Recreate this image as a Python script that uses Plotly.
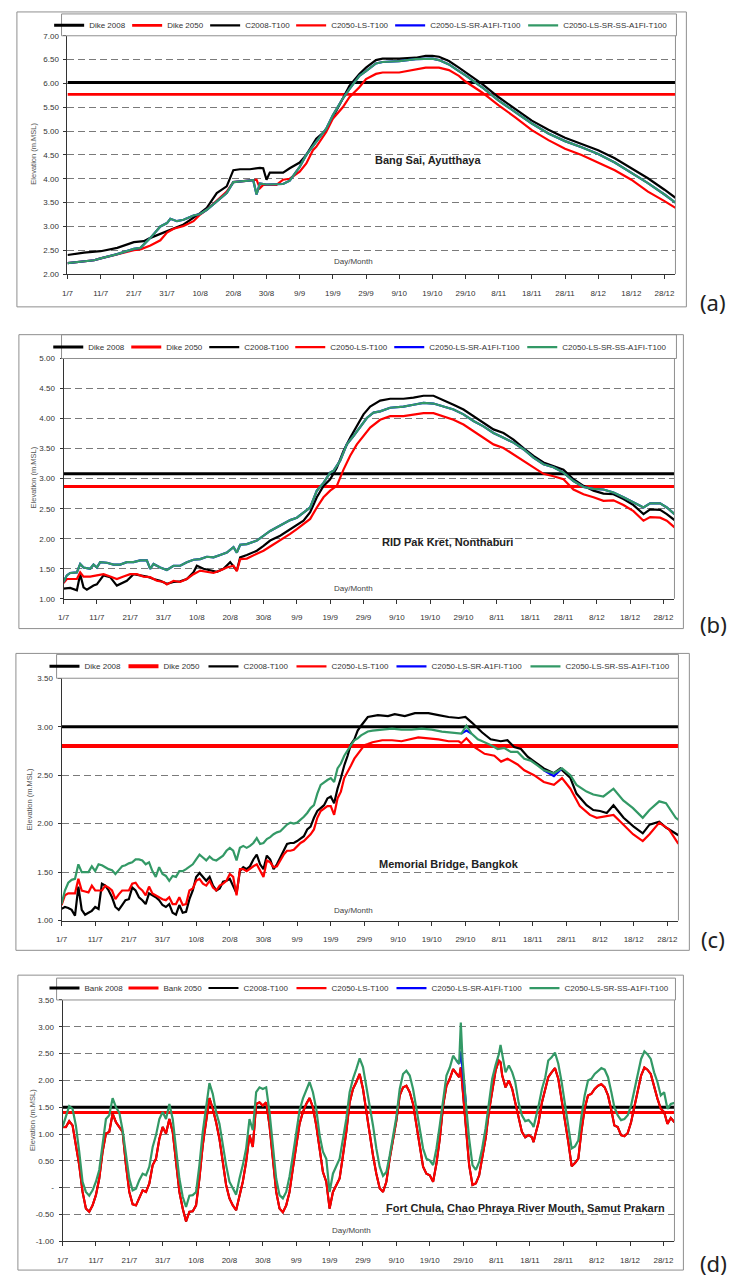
import plotly.graph_objects as go

W, H = 731, 1284
FONT = "Liberation Sans"

# ---------------- shared axis data ----------------
DAY_TICKS = [0, 10, 20, 30, 40, 50, 60, 70, 80, 90, 100, 110, 120, 130, 140, 150, 160, 170, 180]
DAY_LABELS = ["1/7", "11/7", "21/7", "31/7", "10/8", "20/8", "30/8", "9/9", "19/9", "29/9",
              "9/10", "19/10", "29/10", "8/11", "18/11", "28/11", "8/12", "18/12", "28/12"]
DAY_END = 183.3

NAMES_DIKE = ["Dike 2008", "Dike 2050"]
NAMES_BANK = ["Bank 2008", "Bank 2050"]
NAMES_RUNS = ["C2008-T100", "C2050-LS-T100", "C2050-LS-SR-A1FI-T100", "C2050-LS-SR-SS-A1FI-T100"]
STATIONS = ["Bang Sai, Ayutthaya", "RID Pak Kret, Nonthaburi", "Memorial Bridge, Bangkok",
            "Fort Chula, Chao Phraya River Mouth, Samut Prakarn"]
PANEL_TAGS = ["(a)", "(b)", "(c)", "(d)"]

# ---------------- panel (a) Bang Sai ----------------
A_LEVELS = [6.02, 5.77]
A_YTICKS = [2.0, 2.5, 3.0, 3.5, 4.0, 4.5, 5.0, 5.5, 6.0, 6.5, 7.0]
A_YTEXT = ["2.00", "2.50", "3.00", "3.50", "4.00", "4.50", "5.00", "5.50", "6.00", "6.50", "7.00"]
A_BLACK_DAY = [0, 5, 10, 15, 20, 23, 25, 30, 35, 40, 42, 45, 48, 50, 52, 55, 58, 59, 60, 61, 65, 67, 70, 72, 75,
               78, 80, 83, 85, 88, 90, 93, 95, 100, 105, 108, 110, 112, 115, 118, 120, 125, 130, 135, 140, 145,
               150, 155, 160, 165, 170, 175, 180, 183.3]
A_BLACK_VAL = [2.40, 2.45, 2.48, 2.55, 2.67, 2.69, 2.76, 2.90, 3.04, 3.28, 3.39, 3.70, 3.84, 4.18, 4.20, 4.20,
               4.23, 4.22, 3.98, 4.13, 4.13, 4.22, 4.34, 4.50, 4.84, 5.02, 5.29, 5.71, 5.95, 6.20, 6.33, 6.49,
               6.52, 6.52, 6.54, 6.58, 6.58, 6.56, 6.47, 6.33, 6.23, 5.99, 5.71, 5.47, 5.22, 5.03, 4.86, 4.73,
               4.60, 4.43, 4.22, 4.01, 3.77, 3.60]
A_RED_DAY = [0, 5, 8, 10, 15, 20, 22, 25, 28, 30, 32, 35, 38, 40, 42, 45, 48, 50, 52, 57, 58, 59, 60, 63, 65,
             67, 70, 72, 74, 75, 78, 80, 83, 85, 88, 90, 93, 95, 100, 105, 108, 112, 115, 118, 120, 125, 130,
             135, 140, 145, 150, 155, 160, 165, 170, 175, 180, 183.3]
A_RED_VAL = [2.23, 2.27, 2.29, 2.33, 2.42, 2.50, 2.52, 2.60, 2.71, 2.87, 2.95, 3.01, 3.11, 3.25, 3.35, 3.53,
             3.73, 3.93, 3.94, 3.98, 3.80, 3.87, 3.87, 3.87, 3.98, 4.00, 4.15, 4.32, 4.60, 4.67, 4.98, 5.26,
             5.50, 5.71, 5.92, 6.09, 6.20, 6.23, 6.23, 6.29, 6.33, 6.33, 6.28, 6.16, 6.04, 5.81, 5.54, 5.29,
             5.02, 4.81, 4.63, 4.50, 4.34, 4.18, 3.98, 3.73, 3.53, 3.39]
A_GREEN_DAY = [0, 5, 8, 10, 15, 20, 22, 25, 28, 30, 31, 33, 35, 38, 40, 42, 45, 48, 50, 52, 56, 57, 58, 60, 65,
               67, 70, 72, 75, 78, 80, 83, 85, 88, 90, 93, 95, 100, 105, 110, 112, 115, 118, 120, 125, 130, 135,
               140, 145, 150, 155, 160, 165, 170, 175, 180, 183.3]
A_GREEN_VAL = [2.23, 2.27, 2.29, 2.33, 2.42, 2.53, 2.55, 2.76, 3.00, 3.07, 3.16, 3.11, 3.14, 3.23, 3.26, 3.35,
               3.53, 3.70, 3.93, 3.94, 3.97, 3.67, 3.90, 3.88, 3.89, 3.96, 4.25, 4.50, 4.77, 5.05, 5.33, 5.68,
               5.88, 6.16, 6.26, 6.42, 6.45, 6.47, 6.51, 6.52, 6.49, 6.40, 6.26, 6.17, 5.92, 5.64, 5.40, 5.16,
               4.95, 4.79, 4.66, 4.52, 4.34, 4.12, 3.91, 3.67, 3.50]
A_BLUE_DAY = A_GREEN_DAY      # hidden under the green run over the whole season
A_BLUE_VAL = A_GREEN_VAL

# ---------------- panel (b) RID Pak Kret ----------------
B_LEVELS = [3.08, 2.87]
B_YTICKS = [1.0, 1.5, 2.0, 2.5, 3.0, 3.5, 4.0, 4.5, 5.0]
B_YTEXT = ["1.00", "1.50", "2.00", "2.50", "3.00", "3.50", "4.00", "4.50", "5.00"]
B_BLACK_DAY = [0, 2, 4, 5, 6, 7, 9, 10, 12, 14, 16, 17, 19, 21, 23, 25, 27, 29, 31, 33, 35, 37, 39, 40, 42,
               44, 46, 48, 50, 52, 53, 55, 58, 60, 62, 65, 68, 70, 72, 74, 76, 78, 80, 82, 84, 86, 88, 90, 92,
               95, 98, 102, 105, 108, 111, 114, 117, 120, 123, 126, 129, 132, 135, 138, 141, 144, 147, 150, 153,
               156, 159, 162, 165, 168, 171, 174, 176, 179, 181, 183.3]
B_BLACK_VAL = [1.17, 1.18, 1.14, 1.41, 1.19, 1.15, 1.22, 1.24, 1.39, 1.36, 1.22, 1.25, 1.30, 1.41, 1.39, 1.37,
               1.33, 1.30, 1.25, 1.28, 1.29, 1.33, 1.44, 1.55, 1.50, 1.48, 1.45, 1.50, 1.61, 1.47, 1.69, 1.73,
               1.80, 1.88, 1.97, 2.05, 2.16, 2.22, 2.30, 2.44, 2.69, 2.88, 2.99, 3.18, 3.46, 3.68, 3.87, 4.07,
               4.20, 4.30, 4.33, 4.33, 4.35, 4.38, 4.38, 4.31, 4.23, 4.15, 4.04, 3.93, 3.82, 3.76, 3.65, 3.51,
               3.38, 3.27, 3.21, 3.15, 2.99, 2.88, 2.80, 2.75, 2.74, 2.66, 2.56, 2.41, 2.49, 2.48, 2.41, 2.31]
B_RED_DAY = [0, 1, 4, 5, 6, 8, 10, 12, 14, 16, 18, 20, 22, 24, 26, 28, 30, 31, 33, 35, 37, 39, 41, 43, 45, 47,
             49, 51, 52, 53, 55, 58, 60, 62, 65, 68, 70, 72, 74, 76, 78, 80, 82, 84, 86, 88, 90, 92, 95, 98,
             102, 105, 108, 111, 114, 117, 120, 123, 126, 129, 132, 135, 138, 141, 144, 147, 150, 153, 156, 159,
             162, 165, 168, 171, 174, 176, 179, 181, 183.3]
B_RED_VAL = [1.26, 1.33, 1.33, 1.44, 1.37, 1.37, 1.39, 1.41, 1.37, 1.33, 1.37, 1.41, 1.41, 1.37, 1.36, 1.30,
             1.28, 1.24, 1.30, 1.28, 1.33, 1.41, 1.47, 1.45, 1.43, 1.47, 1.52, 1.55, 1.46, 1.66, 1.67, 1.75,
             1.80, 1.87, 1.97, 2.08, 2.16, 2.24, 2.33, 2.52, 2.69, 2.80, 2.88, 3.15, 3.38, 3.57, 3.71, 3.85,
             3.98, 4.04, 4.04, 4.07, 4.09, 4.09, 4.04, 3.98, 3.90, 3.79, 3.68, 3.57, 3.51, 3.40, 3.29, 3.18,
             3.08, 3.04, 2.99, 2.82, 2.74, 2.69, 2.63, 2.64, 2.56, 2.46, 2.30, 2.36, 2.35, 2.30, 2.19]
B_GREEN_DAY = [0, 1, 2, 4, 5, 6, 8, 9, 10, 11, 13, 15, 17, 19, 21, 23, 25, 26, 27, 29, 31, 33, 35, 37, 39, 41,
               43, 45, 47, 49, 51, 52, 53, 55, 58, 60, 62, 65, 68, 70, 72, 74, 76, 78, 80, 81, 83, 85, 87, 89,
               91, 93, 95, 98, 102, 105, 108, 111, 114, 117, 120, 123, 126, 129, 132, 135, 138, 141, 144, 147,
               150, 153, 156, 159, 162, 165, 168, 171, 174, 176, 179, 181, 183.3]
B_GREEN_VAL = [1.28, 1.39, 1.43, 1.44, 1.58, 1.52, 1.50, 1.57, 1.52, 1.61, 1.60, 1.57, 1.57, 1.61, 1.61, 1.64,
               1.64, 1.50, 1.58, 1.52, 1.48, 1.55, 1.55, 1.61, 1.65, 1.66, 1.70, 1.69, 1.73, 1.77, 1.86, 1.77,
               1.90, 1.91, 1.97, 2.05, 2.13, 2.22, 2.31, 2.35, 2.44, 2.52, 2.80, 2.93, 3.10, 3.13, 3.30, 3.57,
               3.71, 3.87, 4.01, 4.10, 4.12, 4.18, 4.20, 4.23, 4.26, 4.25, 4.20, 4.15, 4.07, 3.96, 3.87, 3.76,
               3.68, 3.60, 3.49, 3.35, 3.24, 3.19, 3.10, 2.96, 2.86, 2.83, 2.82, 2.77, 2.69, 2.60, 2.52, 2.59,
               2.59, 2.52, 2.41]
B_BLUE_DAY = B_GREEN_DAY
B_BLUE_VAL = B_GREEN_VAL

# ---------------- panel (c) Memorial Bridge ----------------
C_LEVELS = [3.00, 2.80]
C_YTICKS = [1.0, 1.5, 2.0, 2.5, 3.0, 3.5]
C_YTEXT = ["1.00", "1.50", "2.00", "2.50", "3.00", "3.50"]
C_HEAD_DAY = list(range(0, 92))   # daily readings 1/7 .. 30/9
C_BLACK_HEAD = [1.12, 1.14, 1.13, 1.11, 1.05, 1.35, 1.11, 1.06, 1.08, 1.10,
                1.14, 1.12, 1.38, 1.36, 1.31, 1.24, 1.14, 1.11, 1.16, 1.21,
                1.22, 1.34, 1.31, 1.24, 1.21, 1.17, 1.28, 1.26, 1.24, 1.21,
                1.16, 1.14, 1.17, 1.08, 1.06, 1.16, 1.08, 1.09, 1.22, 1.31,
                1.45, 1.49, 1.45, 1.41, 1.45, 1.36, 1.31, 1.33, 1.40, 1.41,
                1.43, 1.36, 1.28, 1.51, 1.55, 1.53, 1.56, 1.63, 1.68, 1.58,
                1.53, 1.67, 1.63, 1.53, 1.58, 1.65, 1.72, 1.79, 1.80, 1.80,
                1.82, 1.85, 1.87, 1.94, 1.97, 2.06, 2.13, 2.16, 2.19, 2.26,
                2.28, 2.21, 2.36, 2.47, 2.60, 2.70, 2.82, 2.87, 2.96, 3.01,
                3.06, 3.10]
C_BLACK_TAIL_DAY = [94, 97, 99, 102, 105, 109, 112, 115, 118, 120, 122, 125, 127.5, 130.5, 132.5, 134.5, 136.5,
                    138.5, 140.5, 143.3, 146.3, 148.2, 151.2, 153, 156, 158, 160, 162, 164, 167, 170, 172.7,
                    174.7, 177.6, 179.6, 182.5, 183.3]
C_BLACK_TAIL = [3.12, 3.11, 3.13, 3.11, 3.14, 3.14, 3.12, 3.10, 3.09, 3.10, 3.04, 2.94, 2.87, 2.85, 2.86, 2.79,
                2.77, 2.69, 2.64, 2.57, 2.52, 2.57, 2.47, 2.31, 2.19, 2.14, 2.13, 2.11, 2.19, 2.06, 1.97, 1.90,
                1.99, 2.02, 1.96, 1.89, 1.88]
C_RED_HEAD = [1.16, 1.26, 1.28, 1.28, 1.28, 1.43, 1.31, 1.30, 1.29, 1.36,
              1.31, 1.31, 1.31, 1.36, 1.34, 1.31, 1.22, 1.27, 1.31, 1.31,
              1.31, 1.38, 1.39, 1.34, 1.31, 1.26, 1.35, 1.28, 1.26, 1.24,
              1.22, 1.21, 1.24, 1.17, 1.17, 1.24, 1.16, 1.17, 1.31, 1.33,
              1.41, 1.43, 1.38, 1.36, 1.41, 1.34, 1.31, 1.36, 1.38, 1.41,
              1.48, 1.45, 1.26, 1.53, 1.53, 1.51, 1.54, 1.56, 1.58, 1.51,
              1.45, 1.62, 1.60, 1.55, 1.56, 1.62, 1.68, 1.72, 1.72, 1.73,
              1.77, 1.80, 1.82, 1.85, 1.89, 1.94, 2.06, 2.13, 2.16, 2.18,
              2.18, 2.09, 2.26, 2.33, 2.47, 2.53, 2.60, 2.67, 2.72, 2.77,
              2.81, 2.82]
C_RED_TAIL_DAY = [92.4, 95.3, 98.2, 101, 104, 106, 109, 112, 115, 118, 118.8, 120.3, 122.7, 125.7, 128.6, 130.6,
                  132.5, 135.5, 137.5, 140.4, 143.3, 146.3, 148.7, 151.2, 154, 157, 159, 161, 164, 166.9, 169.8,
                  172.7, 174.7, 177.6, 180.5, 183.3]
C_RED_TAIL = [2.84, 2.86, 2.86, 2.85, 2.87, 2.89, 2.88, 2.87, 2.85, 2.85, 2.83, 2.88, 2.79, 2.72, 2.70, 2.64,
              2.67, 2.61, 2.55, 2.50, 2.43, 2.40, 2.47, 2.36, 2.18, 2.09, 2.06, 2.07, 2.09, 1.99, 1.89, 1.82,
              1.89, 2.01, 1.94, 1.79]
C_GREEN_HEAD = [1.17, 1.31, 1.39, 1.42, 1.43, 1.58, 1.50, 1.50, 1.50, 1.56,
                1.51, 1.58, 1.57, 1.55, 1.53, 1.52, 1.48, 1.52, 1.56, 1.57,
                1.59, 1.60, 1.63, 1.63, 1.62, 1.58, 1.60, 1.51, 1.45, 1.55,
                1.48, 1.46, 1.41, 1.46, 1.45, 1.51, 1.51, 1.53, 1.56, 1.58,
                1.63, 1.68, 1.65, 1.62, 1.66, 1.63, 1.62, 1.65, 1.67, 1.72,
                1.75, 1.72, 1.62, 1.75, 1.77, 1.75, 1.77, 1.80, 1.85, 1.79,
                1.80, 1.84, 1.86, 1.89, 1.91, 1.92, 1.96, 1.99, 2.01, 2.00,
                2.01, 2.04, 2.07, 2.11, 2.16, 2.19, 2.31, 2.40, 2.43, 2.45,
                2.47, 2.43, 2.57, 2.62, 2.70, 2.76, 2.81, 2.86, 2.88, 2.91,
                2.93, 2.95]
C_GREEN_TAIL_DAY = [92.4, 95.3, 98.2, 101, 104, 107, 110, 113, 116, 118.8, 120.3, 121.8, 123.7, 125.7, 127.6,
                    129.6, 131.6, 133.5, 135.5, 137.5, 139.4, 141.4, 143.3, 146.3, 148.7, 151.2, 153, 156, 158,
                    161, 164, 166.9, 169.8, 172.7, 174.7, 177.6, 179.6, 182.5, 183.3]
C_GREEN_TAIL = [2.96, 2.97, 2.98, 2.97, 2.97, 2.98, 2.97, 2.95, 2.94, 2.93, 3.01, 2.93, 2.87, 2.84, 2.81, 2.77,
                2.78, 2.74, 2.74, 2.67, 2.65, 2.60, 2.55, 2.52, 2.57, 2.50, 2.40, 2.33, 2.30, 2.28, 2.36, 2.24,
                2.16, 2.06, 2.14, 2.23, 2.21, 2.06, 2.04]
# blue run only shows where it departs from the green run (elsewhere it lies under it)
C_BLUE_DAY = [118.8, 120.3, 121.8, None, 143.3, 146.3, 148.7]
C_BLUE_VAL = [2.93, 2.96, 2.93, None, 2.55, 2.49, 2.57]

# ---------------- panel (d) Fort Chula ----------------
D_LEVELS = [1.50, 1.40]
D_YTICKS = [-1.0, -0.5, 0.0, 0.5, 1.0, 1.5, 2.0, 2.5, 3.0, 3.5]
D_YTEXT = ["-1.00", "-0.50", "-", "0.50", "1.00", "1.50", "2.00", "2.50", "3.00", "3.50"]
D_HEAD_DAY = list(range(0, 119))  # daily readings 1/7 .. 27/10
D_TAIL_DAY = [118.8, 119.3, 119.8, 120.8, 121.8, 122.8, 123.8, 124.8, 125.7, 126.7, 127.7, 128.7, 129.7, 130.7,
              131.2, 131.7, 132.7, 133.7, 134.7, 135.6, 136.6, 137.6, 138.6, 139.6, 140.6, 141.1, 141.6, 142.6,
              143.6, 144.6, 145.5, 146.5, 147.5, 148.5, 149.5, 150.5, 151.5, 152.5, 153.5, 154.5, 155.4, 156.4,
              157.4, 158.4, 159.4, 160.4, 161.4, 162.4, 163.4, 164.4, 165.3, 166.3, 167.3, 168.3, 169.3, 170.3,
              171.3, 172.3, 173.3, 174.3, 175.2, 176.2, 177.2, 178.2, 179.2, 180.2, 181.2, 182.2, 183.3]
D_GREEN_HEAD = [1.13, 1.35, 1.52, 1.47, 1.16, 0.67, 0.11, -0.08, -0.15, -0.05,
                0.11, 0.33, 0.82, 1.28, 1.35, 1.67, 1.50, 1.40, 1.07, 0.60,
                0.17, -0.05, -0.02, 0.14, 0.26, 0.23, 0.39, 0.76, 0.98, 1.28,
                1.41, 1.28, 1.56, 1.28, 0.73, 0.17, -0.17, -0.36, -0.15, -0.14,
                -0.08, 0.42, 1.04, 1.47, 1.95, 1.75, 1.41, 1.19, 0.79, 0.42,
                0.11, -0.02, -0.13, 0.17, 0.42, 0.73, 1.28, 1.07, 1.78, 1.87,
                1.84, 1.87, 1.41, 0.79, 0.17, -0.14, -0.20, -0.08, 0.21, 0.60,
                1.04, 1.44, 1.66, 1.83, 1.97, 1.78, 1.47, 0.98, 0.67, 0.54,
                -0.08, 0.26, 0.39, 0.54, 0.91, 1.28, 1.78, 2.03, 2.21, 2.41,
                2.25, 1.90, 1.53, 1.16, 0.73, 0.39, 0.22, 0.29, 0.60, 0.98,
                1.32, 1.84, 2.12, 2.18, 2.09, 1.84, 1.47, 1.07, 0.73, 0.54,
                0.51, 0.42, 0.73, 1.16, 1.66, 2.09, 2.24, 2.46, 2.37]
D_GREEN_TAIL = [2.31, 3.08, 2.40, 1.59, 0.91, 0.42, 0.33, 0.48, 0.73, 1.10, 1.59, 2.03, 2.28, 2.49, 2.66, 2.46,
                2.15, 2.28, 2.15, 1.97, 1.59, 1.35, 1.24, 1.26, 1.19, 1.13, 1.26, 1.53, 1.84, 2.06, 2.37, 2.43,
                2.52, 2.31, 1.97, 1.53, 1.16, 0.73, 0.77, 0.88, 1.32, 1.72, 2.00, 2.03, 2.12, 2.18, 2.23, 2.20,
                2.06, 1.78, 1.50, 1.35, 1.26, 1.28, 1.35, 1.53, 1.84, 2.15, 2.40, 2.54, 2.49, 2.40, 2.15, 1.97,
                1.72, 1.78, 1.47, 1.56, 1.58]
D_RED_HEAD = [1.13, 1.13, 1.24, 1.16, 0.79, 0.42, -0.08, -0.39, -0.45, -0.33,
              -0.14, 0.17, 0.67, 1.01, 1.04, 1.38, 1.22, 1.13, 1.04, 0.42,
              -0.08, -0.31, -0.33, -0.19, -0.05, -0.08, 0.08, 0.42, 0.54, 0.91,
              1.13, 1.01, 1.28, 1.04, 0.48, -0.08, -0.39, -0.63, -0.45, -0.44,
              -0.33, 0.17, 0.79, 1.22, 1.67, 1.47, 1.22, 0.91, 0.48, 0.05,
              -0.20, -0.33, -0.42, -0.14, 0.11, 0.48, 0.98, 0.76, 1.56, 1.59,
              1.53, 1.59, 1.16, 0.54, -0.08, -0.39, -0.46, -0.33, -0.08, 0.36,
              0.79, 1.19, 1.41, 1.56, 1.67, 1.50, 1.16, 0.67, 0.29, 0.11,
              -0.39, -0.08, 0.05, 0.17, 0.60, 1.04, 1.59, 1.84, 1.97, 2.12,
              1.84, 1.41, 1.04, 0.60, 0.26, -0.01, -0.08, 0.11, 0.54, 0.91,
              1.25, 1.72, 1.87, 1.90, 1.78, 1.56, 1.16, 0.79, 0.39, 0.26,
              0.23, 0.11, 0.45, 0.91, 1.53, 1.90, 2.03, 2.21, 2.12]
D_RED_TAIL = [2.06, 2.24, 1.90, 1.16, 0.42, 0.05, 0.08, 0.23, 0.54, 0.91, 1.41, 1.84, 2.18, 2.37, 2.34, 2.09,
              1.87, 2.00, 1.84, 1.59, 1.28, 1.04, 0.94, 0.98, 0.94, 0.85, 0.98, 1.22, 1.59, 1.84, 2.06, 2.15,
              2.23, 2.03, 1.66, 1.22, 0.85, 0.40, 0.46, 0.54, 1.04, 1.47, 1.72, 1.75, 1.84, 1.90, 1.93, 1.87,
              1.72, 1.44, 1.16, 1.13, 0.98, 0.96, 1.02, 1.22, 1.53, 1.84, 2.09, 2.24, 2.20, 2.12, 1.87, 1.66,
              1.47, 1.41, 1.19, 1.30, 1.22]
# C2008-T100 at the river mouth runs under the C2050-LS-T100 curve
D_BLACK_HEAD = D_RED_HEAD
D_BLACK_TAIL = D_RED_TAIL
# blue run only shows at the 27/10 surge where it departs from the green run
D_BLUE_DAY = [118, 118.8, 119.5, 119.6, 120.8]
D_BLUE_VAL = [2.37, 2.31, 2.55, 2.35, 1.59]

# ---------------- assemble panels ----------------
PANELS = [
    dict(levels=A_LEVELS, level_names=NAMES_DIKE, yticks=A_YTICKS, ytext=A_YTEXT, yrange=[2.0, 7.0],
         black=(A_BLACK_DAY, A_BLACK_VAL), red=(A_RED_DAY, A_RED_VAL),
         blue=(A_BLUE_DAY, A_BLUE_VAL), green=(A_GREEN_DAY, A_GREEN_VAL)),
    dict(levels=B_LEVELS, level_names=NAMES_DIKE, yticks=B_YTICKS, ytext=B_YTEXT, yrange=[1.0, 5.0],
         black=(B_BLACK_DAY, B_BLACK_VAL), red=(B_RED_DAY, B_RED_VAL),
         blue=(B_BLUE_DAY, B_BLUE_VAL), green=(B_GREEN_DAY, B_GREEN_VAL)),
    dict(levels=C_LEVELS, level_names=NAMES_DIKE, yticks=C_YTICKS, ytext=C_YTEXT, yrange=[1.0, 3.5],
         black=(C_HEAD_DAY + C_BLACK_TAIL_DAY, C_BLACK_HEAD + C_BLACK_TAIL),
         red=(C_HEAD_DAY + C_RED_TAIL_DAY, C_RED_HEAD + C_RED_TAIL),
         blue=(C_BLUE_DAY, C_BLUE_VAL),
         green=(C_HEAD_DAY + C_GREEN_TAIL_DAY, C_GREEN_HEAD + C_GREEN_TAIL)),
    dict(levels=D_LEVELS, level_names=NAMES_BANK, yticks=D_YTICKS, ytext=D_YTEXT, yrange=[-1.0, 3.5],
         black=(D_HEAD_DAY + D_TAIL_DAY, D_BLACK_HEAD + D_BLACK_TAIL),
         red=(D_HEAD_DAY + D_TAIL_DAY, D_RED_HEAD + D_RED_TAIL),
         blue=(D_BLUE_DAY, D_BLUE_VAL),
         green=(D_HEAD_DAY + D_TAIL_DAY, D_GREEN_HEAD + D_GREEN_TAIL)),
]

# page geometry in pixels
GEOM = [
    dict(plot=(62, 675, 32, 272), frame=(11, 8, 686, 305), lbox=(56, 10, 676, 32), leg=(43.5, 21.5),
         lw=[33, 33, 41, 54, 88, 110], ytitle=(28, 151), daym=(350, 259), station=(425, 157, "center"),
         tag=(713, 300), dikew=(3, 2.6), blackw=2.2),
    dict(plot=(58, 674, 357, 599), frame=(13, 333, 683, 629), lbox=(56, 333, 676, 357), leg=(42.6, 345.5),
         lw=[33, 33, 41, 54, 88, 110], ytitle=(28, 477), daym=(350, 589), station=(445, 542, "center"),
         tag=(713, 624), dikew=(3, 3), blackw=2.2),
    dict(plot=(56, 678, 679, 923), frame=(10, 654, 689, 953), lbox=(51, 655, 678, 679), leg=(38.8, 667),
         lw=[34, 35, 43, 55, 89, 110], ytitle=(24, 801), daym=(350, 913), station=(447, 866, "center"),
         tag=(713, 942), dikew=(3, 4), blackw=2.2),
    dict(plot=(57, 674, 1003, 1246), frame=(12, 978, 683, 1275), lbox=(51, 981, 675, 1003), leg=(38.8, 991),
         lw=[34, 35, 43, 55, 88, 110], ytitle=(26, 1124), daym=(348, 1235), station=(666, 1212, "right"),
         tag=(713, 1268), dikew=(3, 3), blackw=2.0),
]

RUN_COLORS = ["#000000", "#ff0000", "#0000ff", "#339966"]
LEVEL_COLORS = ["#000000", "#ff0000"]
FRAME_COLOR = "#8f8f8f"


def fx(px):
    return px / W


def fy(py):
    return 1 - py / H


fig = go.Figure()
shapes, annotations = [], []
layout_extra = {}

for i, (p, g) in enumerate(zip(PANELS, GEOM)):
    s = "" if i == 0 else str(i + 1)
    xa, ya, leg = "x" + s, "y" + s, "legend" + s
    lw = g["lw"]
    # dike / bank levels
    for k in range(2):
        fig.add_trace(go.Scatter(
            x=[0, DAY_END], y=[p["levels"][k], p["levels"][k]], mode="lines",
            name=p["level_names"][k], line=dict(color=LEVEL_COLORS[k], width=g["dikew"][k]),
            xaxis=xa, yaxis=ya, legend=leg, legendwidth=lw[k], hoverinfo="skip"))
    runs = [p["black"], p["red"], p["blue"], p["green"]]
    for k, (dx, dy) in enumerate(runs):
        width = g["blackw"] if k == 0 else 2.2
        fig.add_trace(go.Scatter(
            x=dx, y=dy, mode="lines", name=NAMES_RUNS[k],
            line=dict(color=RUN_COLORS[k], width=width), connectgaps=False,
            xaxis=xa, yaxis=ya, legend=leg, legendwidth=lw[k + 2], hoverinfo="skip"))

    x0, x1, yt, yb = g["plot"]
    layout_extra["xaxis" + s] = dict(
        domain=[fx(x0), fx(x1)], anchor=ya, range=[0, DAY_END],
        tickmode="array", tickvals=DAY_TICKS, ticktext=DAY_LABELS,
        ticks="outside", ticklen=4, tickwidth=1, tickcolor="#333333",
        showline=True, linecolor="#333333", linewidth=1, showgrid=False, zeroline=False,
        tickfont=dict(family=FONT, size=8, color="#333333"), ticklabelstandoff=7, fixedrange=True)
    layout_extra["yaxis" + s] = dict(
        domain=[fy(yb), fy(yt)], anchor=xa, range=p["yrange"],
        tickmode="array", tickvals=p["yticks"], ticktext=p["ytext"],
        ticks="outside", ticklen=3, tickwidth=1, tickcolor="#333333",
        showline=True, linecolor="#333333", linewidth=1,
        showgrid=True, gridcolor="#7a7a7a", gridwidth=1, griddash="7px,4px", zeroline=False,
        tickfont=dict(family=FONT, size=8, color="#333333"), ticklabelstandoff=3, fixedrange=True)
    layout_extra[leg] = dict(
        x=fx(g["leg"][0]), y=fy(g["leg"][1]), xanchor="left", yanchor="middle",
        orientation="h", bgcolor="rgba(0,0,0,0)", borderwidth=0, itemwidth=30,
        font=dict(family=FONT, size=8, color="#333333"), tracegroupgap=0, itemclick=False,
        itemdoubleclick=False)

    # frames, legend box, plot right border
    fx0, fy0, fx1, fy1 = g["frame"]
    shapes.append(dict(type="rect", xref="paper", yref="paper", x0=fx(fx0), x1=fx(fx1), y0=fy(fy1), y1=fy(fy0),
                       line=dict(color=FRAME_COLOR, width=1), fillcolor="rgba(0,0,0,0)", layer="above"))
    lx0, ly0, lx1, ly1 = g["lbox"]
    shapes.append(dict(type="rect", xref="paper", yref="paper", x0=fx(lx0), x1=fx(lx1), y0=fy(ly1), y1=fy(ly0),
                       line=dict(color=FRAME_COLOR, width=1), fillcolor="rgba(0,0,0,0)", layer="above"))
    shapes.append(dict(type="line", xref="paper", yref="paper", x0=fx(x1), x1=fx(x1), y0=fy(yb), y1=fy(yt),
                       line=dict(color=FRAME_COLOR, width=1), layer="above"))

    annotations.append(dict(text="Elevation (m.MSL)", x=fx(g["ytitle"][0]), y=fy(g["ytitle"][1]),
                            xref="paper", yref="paper", showarrow=False, textangle=-90,
                            xanchor="center", yanchor="middle",
                            font=dict(family=FONT, size=7.5, color="#555555")))
    annotations.append(dict(text="Day/Month", x=fx(g["daym"][0]), y=fy(g["daym"][1]),
                            xref="paper", yref="paper", showarrow=False, xanchor="center", yanchor="middle",
                            font=dict(family=FONT, size=8, color="#444444")))
    annotations.append(dict(text="<b>" + STATIONS[i] + "</b>", x=fx(g["station"][0]), y=fy(g["station"][1]),
                            xref="paper", yref="paper", showarrow=False, xanchor=g["station"][2],
                            yanchor="middle", font=dict(family=FONT, size=11, color="#222222")))
    annotations.append(dict(text=PANEL_TAGS[i], x=fx(g["tag"][0]), y=fy(g["tag"][1]),
                            xref="paper", yref="paper", showarrow=False, xanchor="center", yanchor="middle",
                            font=dict(family="Noto Sans", size=22, color="#222222")))

fig.update_layout(
    width=W, height=H, margin=dict(l=0, r=0, t=0, b=0),
    paper_bgcolor="white", plot_bgcolor="white", showlegend=True, hovermode=False,
    shapes=shapes, annotations=annotations, **layout_extra)

fig.write_html("out.html", config={"displayModeBar": False, "staticPlot": True},
               post_script="document.body.style.margin='0';document.body.style.overflow='hidden';")
